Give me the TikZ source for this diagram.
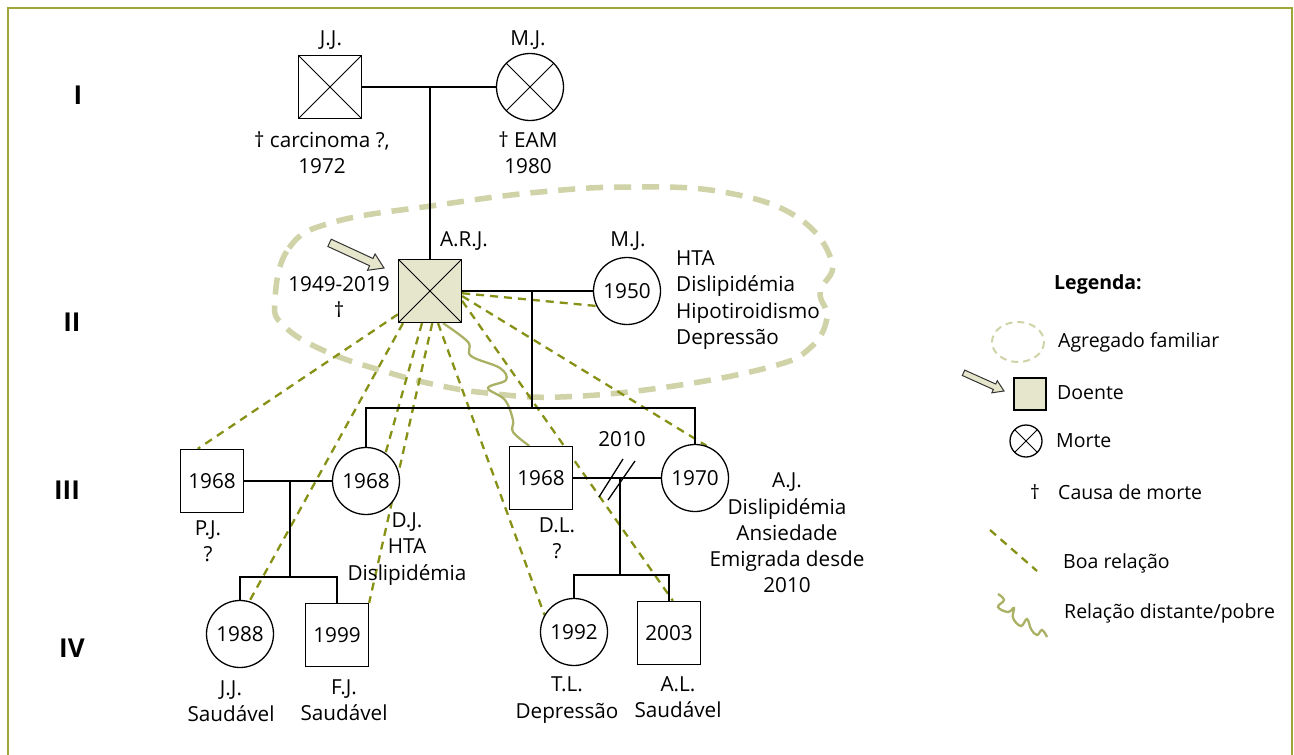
\documentclass[tikz,border=0pt]{standalone}
\usepackage{fontspec}
\setmainfont{Open Sans}
\usetikzlibrary{backgrounds}

\definecolor{frameolive}{RGB}{160,165,55}
\definecolor{doente}{RGB}{230,230,204}
\definecolor{goodrel}{RGB}{134,145,22}
\definecolor{poorrel}{RGB}{170,176,100}
\definecolor{household}{RGB}{208,210,168}

\tikzset{
  male/.style={draw, line width=1.3pt, fill=white, minimum size=63pt, inner sep=0pt},
  female/.style={draw, circle, line width=1.3pt, fill=white, minimum size=67pt, inner sep=0pt},
  dead/.style={path picture={
      \draw[line width=0.9pt] (path picture bounding box.north west) -- (path picture bounding box.south east)
                              (path picture bounding box.north east) -- (path picture bounding box.south west);}},
  kin/.style={line width=1.3pt},
  goodline/.style={goodrel, line width=2.3pt, dash pattern=on 8pt off 6pt},
  poorline/.style={poorrel, line width=2.3pt},
  hhline/.style={household, line width=5.5pt, dash pattern=on 17pt off 11pt},
  lbl/.style={align=center, inner sep=0pt},
  legendtext/.style={lbl, anchor=west, font=\fontsize{19.5}{26}\selectfont},
  gen/.style={font=\fontsize{26}{30}\selectfont\bfseries},
}

% block arrow pointing at the index patient: tip x, tip y, angle, scale
\newcommand{\probandarrow}[4]{%
  \begin{scope}[shift={(#1,#2)}, rotate=#3, scale=#4]
    \filldraw[fill=doente, draw=black!80, line width=1pt]
      (0,0) -- (-14,9) -- (-14,4) -- (-60,4) -- (-60,-4) -- (-14,-4) -- (-14,-9) -- cycle;
  \end{scope}}

\begin{document}
\begin{tikzpicture}[x=1pt,y=-1pt,font=\fontsize{20.7}{26.3}\selectfont]
  \useasboundingbox (0,0) rectangle (1294,755);
  \draw[frameolive, line width=2.5pt] (8,757) -- (8,8) -- (1292,8) -- (1292,757);

  % generations
  \node[gen] (g1) at (78,95) {I};
  \node[gen] (g2) at (72,322) {II};
  \node[gen] (g3) at (67,490) {III};
  \node[gen] (g4) at (72,648) {IV};

  % generation I
  \node[male,dead] (jj) at (330,87) {};
  \node[female,dead] (mj) at (530,87) {};
  \node[lbl] (jj-name) at (331,40) {J.J.};
  \node[lbl] (mj-name) at (528,40) {M.J.};
  \node[lbl] (jj-note) at (322,153) {† carcinoma ?,\\1972};
  \node[lbl] (mj-note) at (528,153) {† EAM\\1980};
  \coordinate (c1) at (430,87);

  % generation II
  \node[male,dead,fill=doente] (arj) at (430,291) {};
  \node[female] (mjw) at (627,291) {1950};
  \node[lbl] (arj-name) at (464,241) {A.R.J.};
  \node[lbl] (mjw-name) at (628,241) {M.J.};
  \node[lbl] (arj-note) at (339,297) {1949-2019\\†};
  \node[lbl,align=left,anchor=west] (mjw-note) at (676,300) {HTA\\Dislipidémia\\Hipotiroidismo\\Depressão};
  \coordinate (c2) at (532,291);
  \coordinate (sib) at (532,408);
  \probandarrow{384}{268}{-24.8}{1}

  % generation III
  \node[male] (pj) at (212,481) {1968};
  \node[female] (dj) at (366,481) {1968};
  \node[male] (dl) at (541,478) {1968};
  \node[female] (aj) at (695,478) {1970};
  \node[lbl] (pj-note) at (208,541) {P.J.\\?};
  \node[lbl] (dj-note) at (407,549) {D.J.\\HTA\\Dislipidémia};
  \node[lbl] (dl-note) at (557,538) {D.L.\\?};
  \node[lbl] (aj-note) at (787,533) {A.J.\\Dislipidémia\\Ansiedade\\Emigrada desde\\2010};
  \node[lbl] (div) at (622,439) {2010};
  \coordinate (c3) at (290,481);
  \coordinate (kids1) at (290,577);
  \coordinate (c4) at (620,478);
  \coordinate (kids2) at (620,575);

  % generation IV
  \node[female] (jjg) at (240,634) {1988};
  \node[male] (fj) at (337,635) {1999};
  \node[female] (tl) at (574,632) {1992};
  \node[male] (al) at (669,633) {2003};
  \node[lbl] (jjg-note) at (231,701) {J.J.\\Saudável};
  \node[lbl] (fj-note) at (344,700) {F.J.\\Saudável};
  \node[lbl] (tl-note) at (567,700) {T.L.\\Depressão};
  \node[lbl] (al-note) at (678,697) {A.L.\\Saudável};

  % pedigree lines
  \draw[kin] (jj.east) -- (mj.west);
  \draw[kin] (c1) -- (arj.north);
  \draw[kin] (arj.east) -- (mjw.west);
  \draw[kin] (c2) -- (sib);
  \draw[kin] (dj.north) -- (dj.north |- sib) -- (aj.north |- sib) -- (aj.north);
  \draw[kin] (pj.east) -- (dj.west);
  \draw[kin] (c3) -- (kids1);
  \draw[kin] (jjg.north) -- (jjg.north |- kids1) -- (fj.north |- kids1) -- (fj.north);
  \draw[kin] (dl.east) -- (aj.west);
  \draw[kin] (c4) -- (kids2);
  \draw[kin] (tl.north) -- (tl.north |- kids2) -- (al.north |- kids2) -- (al.north);
  \draw[kin] (599,497) -- (623,459) (608,500) -- (635,461);

  % relations and household
  \begin{scope}[on background layer]
    \draw[hhline] plot[smooth cycle, tension=0.7] coordinates {
      (275,300) (289,248) (334,222) (438,205) (540,192) (630,187) (723,192) (797,217)
      (832,262) (820,292) (827,318) (810,348) (770,367) (667,387) (560,397) (487,393)
      (437,385) (390,373) (327,352) (284,326)};
    \draw[goodline] (arj.216) -- (pj.114);
    \draw[goodline] (arj.230) -- (jjg.74);
    \draw[goodline] (arj.256) -- (dj.55);
    \draw[goodline] (arj.274) -- (fj.north east);
    \draw[goodline] (arj.284) -- (tl.150);
    \draw[goodline] (arj.343) -- (al.83);
    \draw[goodline] (arj.351) -- (aj.70);
    \draw[goodline] (arj.356) -- (mjw.206);
    \draw[poorline] plot[smooth, tension=0.6] coordinates {
      (arj.292) (468,342) (471,356) (500,368) (506,380) (488,388) (505,400)
      (513,420) (513,432) (dl.110)};
  \end{scope}

  % legend
  \node[lbl,font=\fontsize{19.5}{26}\selectfont\bfseries] (lg-title) at (1098,284) {Legenda:};
  \draw[household, line width=2pt, dash pattern=on 7pt off 5pt] (1018,342) ellipse [x radius=26, y radius=20];
  \node[legendtext] (lg-hh) at (1058,342) {Agregado familiar};
  \node[male, fill=doente, minimum size=32pt] (lg-sq) at (1030,394) {};
  \probandarrow{1004}{391}{-24.2}{0.74}
  \node[legendtext] (lg-sick) at (1057,393) {Doente};
  \node[female, dead, minimum size=32pt] (lg-ci) at (1026,441) {};
  \node[legendtext] (lg-dead) at (1056,441) {Morte};
  \node[lbl,font=\fontsize{19.5}{26}\selectfont] (lg-dag) at (1035,492) {†};
  \node[legendtext] (lg-cause) at (1058,492) {Causa de morte};
  \coordinate (lg-g1) at (990,530);
  \coordinate (lg-g2) at (1037,571);
  \draw[goodline] (lg-g1) -- (lg-g2);
  \node[legendtext] (lg-good) at (1063,563) {Boa relação};
  \draw[poorline] plot[smooth, tension=0.7] coordinates {
    (998,594) (1004,600) (998,607) (1008,612) (1014,608) (1013,618) (1021,626)
    (1027,619) (1031,629) (1037,635) (1042,630) (1047,637)};
  \node[legendtext] (lg-poor) at (1064,613) {Relação distante/pobre};
\end{tikzpicture}
\end{document}
